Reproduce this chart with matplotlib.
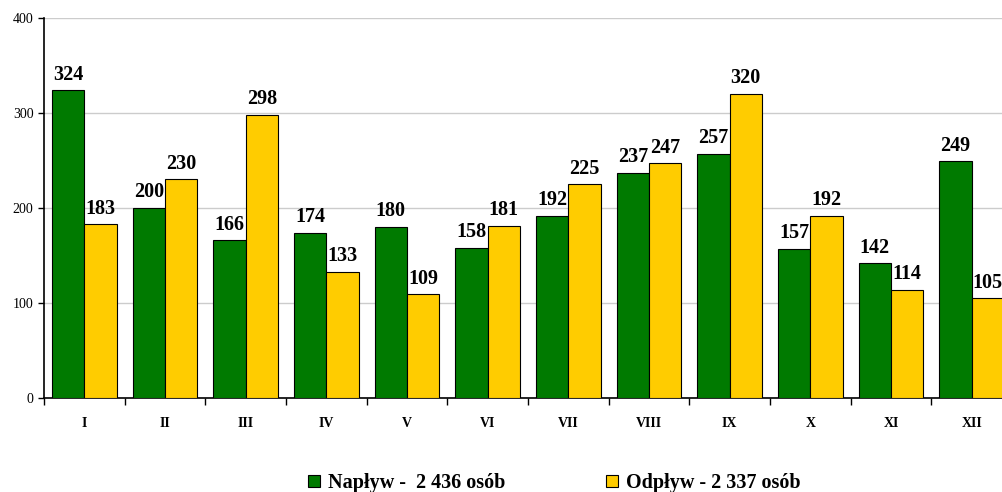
import numpy as np
import matplotlib.pyplot as plt

months = ['I', 'II', 'III', 'IV', 'V', 'VI', 'VII', 'VIII', 'IX', 'X', 'XI', 'XII']
naplyw = [324, 200, 166, 174, 180, 158, 192, 237, 257, 157, 142, 249]
odplyw = [183, 230, 298, 133, 109, 181, 225, 247, 320, 192, 114, 105]
labels = ['Napływ -  2 436 osób', 'Odpływ - 2 337 osób']

plt.rcParams['font.family'] = ['Liberation Serif', 'DejaVu Serif']

fig = plt.figure(figsize=(10.02, 4.92), dpi=100)
# the original chart runs past the right edge of the picture
ax = fig.add_axes([44 / 1002, 94 / 492, 968 / 1002, 380 / 492])

x = np.arange(len(months))
w = 0.4
b1 = ax.bar(x - w / 2, naplyw, w, color='#007A00', edgecolor='black', linewidth=0.8, label=labels[0], zorder=3)
b2 = ax.bar(x + w / 2, odplyw, w, color='#FFCC00', edgecolor='black', linewidth=0.8, label=labels[1], zorder=3)

for bars, vals in [(b1, naplyw), (b2, odplyw)]:
    for r, v in zip(bars, vals):
        ax.annotate(str(v), (r.get_x() + r.get_width() / 2, v), xytext=(0, 4),
                    textcoords='offset points', ha='center', va='bottom',
                    fontsize=14.5, fontweight='bold')

ax.set_xlim(-0.5, len(months) - 0.5)
ax.set_ylim(0, 400)
ax.set_yticks([0, 100, 200, 300, 400])
ax.yaxis.grid(True, color='#cccccc', linewidth=1, zorder=0)
ax.tick_params(axis='y', labelsize=10, length=4, width=1)

ax.set_xticks(np.arange(len(months) + 1) - 0.5)
ax.set_xticklabels([])
ax.set_xticks(x, minor=True)
ax.set_xticklabels(months, minor=True, fontsize=10, fontweight='bold')
ax.tick_params(axis='x', which='major', length=5, width=1)
ax.tick_params(axis='x', which='minor', length=0, pad=14)

for s in ['top', 'right']:
    ax.spines[s].set_visible(False)
ax.spines['left'].set_linewidth(1.2)
ax.spines['bottom'].set_linewidth(1.2)

fig.legend(handles=[b1, b2], loc='center', bbox_to_anchor=(0.553, 0.018), ncol=2,
           frameon=False, prop={'size': 14.5, 'weight': 'bold'},
           handlelength=0.6, handleheight=0.6, handletextpad=0.4, columnspacing=5.0)

fig.savefig('out.png', dpi=100)
